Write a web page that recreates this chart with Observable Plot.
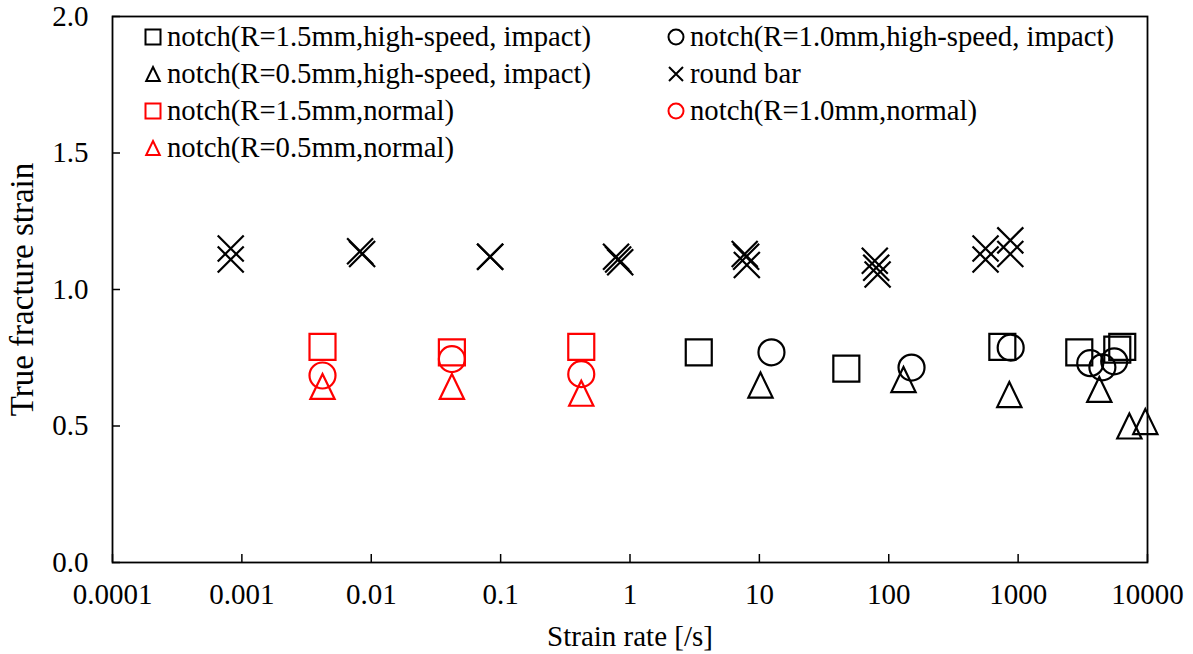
<!DOCTYPE html>
<html><head><meta charset="utf-8">
<script src="https://cdn.jsdelivr.net/npm/d3@7"></script>
<script src="https://cdn.jsdelivr.net/npm/@observablehq/plot@0.6"></script>
<style>body{margin:0;background:#fff;} #chart{width:1193px;height:654px;}</style>
</head><body><div id="chart"></div>
<script>
// ---- tick labels ----
const xTicks = [0.0001, 0.001, 0.01, 0.1, 1, 10, 100, 1000, 10000];
const xTickLabels = ["0.0001", "0.001", "0.01", "0.1", "1", "10", "100", "1000", "10000"];
const yTicks = [0, 0.5, 1, 1.5, 2];
const yTickLabels = ["0.0", "0.5", "1.0", "1.5", "2.0"];
const xTitle = "Strain rate [/s]";
const yTitle = "True fracture strain";

// ---- series names ----
const seriesNames = [
  "notch(R=1.5mm,high-speed, impact)",
  "notch(R=1.0mm,high-speed, impact)",
  "notch(R=0.5mm,high-speed, impact)",
  "round bar",
  "notch(R=1.5mm,normal)",
  "notch(R=1.0mm,normal)",
  "notch(R=0.5mm,normal)"
];

// ---- series values ----
const hs15X = [3.4, 47, 755, 2970, 5840, 6380];
const hs15Y = [0.77, 0.71, 0.79, 0.77, 0.78, 0.79];

const hs10X = [12.4, 150, 876, 3610, 4480, 5530];
const hs10Y = [0.77, 0.714, 0.787, 0.73, 0.715, 0.737];

const hs05X = [10.2, 130, 855, 4240, 7240, 9620];
const hs05Y = [0.65, 0.67, 0.615, 0.634, 0.50, 0.516];

const rbX = [0.00082, 0.00082, 0.0082, 0.0085, 0.083, 0.083, 0.78, 0.81, 0.84, 7.7, 7.9, 8.0, 78, 80, 82, 560, 560, 870, 870];
const rbY = [1.15, 1.11, 1.14, 1.13, 1.12, 1.12, 1.12, 1.11, 1.10, 1.13, 1.12, 1.09, 1.105, 1.08, 1.055, 1.15, 1.11, 1.18, 1.13];

const n15X = [0.0042, 0.042, 0.42];
const n15Y = [0.79, 0.77, 0.79];

const n10X = [0.0042, 0.042, 0.42];
const n10Y = [0.685, 0.745, 0.69];

const n05X = [0.0042, 0.042, 0.42];
const n05Y = [0.645, 0.645, 0.62];

// ---- custom marker shapes ----
const rad = size => Math.sqrt(size / Math.PI);
const symSquare = {draw(c, s) { const r = rad(s); c.rect(-r, -r, 2 * r, 2 * r); }};
const symCircle = {draw(c, s) { const r = rad(s); c.moveTo(r, 0); c.arc(0, 0, r, 0, 2 * Math.PI); c.closePath(); }};
const symTriangle = {draw(c, s) { const r = rad(s); c.moveTo(0, -r); c.lineTo(r * 0.97, r); c.lineTo(-r * 0.97, r); c.closePath(); }};
const symCross = {draw(c, s) { const r = rad(s); c.moveTo(-r, -r); c.lineTo(r, r); c.moveTo(-r, r); c.lineTo(r, -r); }};

const series = [
  {name: seriesNames[0], xs: hs15X, ys: hs15Y, color: "#000000", sym: symSquare, r: 13, lr: 7.5},
  {name: seriesNames[1], xs: hs10X, ys: hs10Y, color: "#000000", sym: symCircle, r: 13, lr: 7.5},
  {name: seriesNames[2], xs: hs05X, ys: hs05Y, color: "#000000", sym: symTriangle, r: 12.5, lr: 7},
  {name: seriesNames[3], xs: rbX, ys: rbY, color: "#000000", sym: symCross, r: 13, lr: 7},
  {name: seriesNames[4], xs: n15X, ys: n15Y, color: "#ff0000", sym: symSquare, r: 13, lr: 7.5},
  {name: seriesNames[5], xs: n10X, ys: n10Y, color: "#ff0000", sym: symCircle, r: 13, lr: 7.5},
  {name: seriesNames[6], xs: n05X, ys: n05Y, color: "#ff0000", sym: symTriangle, r: 12.5, lr: 7}
];

const font = "'Liberation Serif', 'Times New Roman', serif";

const dotMarks = series.map(s => Plot.dot(
  s.xs.map((x, i) => ({x, y: s.ys[i]})),
  {x: "x", y: "y", symbol: s.sym, r: s.r, stroke: s.color, fill: "none", strokeWidth: 2.2}
));

const svgEl = Plot.plot({
  width: 1193, height: 654,
  marginLeft: 112, marginRight: 46, marginTop: 16, marginBottom: 92,
  style: {fontFamily: font, fontSize: "29px", background: "white", color: "black"},
  x: {type: "log", domain: [1e-4, 1e4]},
  y: {domain: [0, 2]},
  marks: [
    Plot.axisX({ticks: xTicks, tickFormat: d => xTickLabels[xTicks.indexOf(d)], tickSize: -8, tickPadding: 29, label: null, strokeWidth: 1.5}),
    Plot.axisY({ticks: yTicks, tickFormat: d => yTickLabels[yTicks.indexOf(d)], tickSize: -8, tickPadding: 32, label: null, strokeWidth: 1.5}),
    ...dotMarks,
    Plot.frame({stroke: "black", strokeWidth: 1.8}),
    Plot.text([xTitle], {frameAnchor: "bottom", dy: 74, lineAnchor: "middle", textAnchor: "middle", text: d => d}),
    Plot.text([yTitle], {frameAnchor: "left", dx: -90, rotate: -90, textAnchor: "middle", lineAnchor: "middle", fontSize: 33, text: d => d})
  ]
});
document.getElementById("chart").appendChild(svgEl);

// ---- in-plot legend ----
const svg = d3.select(svgEl);
const lg = svg.append("g").style("font-family", font).style("font-size", "28.7px").attr("text-anchor", "start");
const colX = [153, 676], row0 = 37, rowH = 37;
series.forEach((s, i) => {
  const cx = colX[i % 2], cy = row0 + Math.floor(i / 2) * rowH;
  lg.append("path")
    .attr("d", d3.symbol(s.sym, s.lr * s.lr * Math.PI)())
    .attr("transform", `translate(${cx},${cy})`)
    .attr("fill", "none").attr("stroke", s.color).attr("stroke-width", 2);
  lg.append("text").attr("x", cx + 14).attr("y", cy).attr("dy", "0.3em")
    .attr("text-anchor", "start").attr("fill", "black").text(s.name);
});
</script>
</body></html>
